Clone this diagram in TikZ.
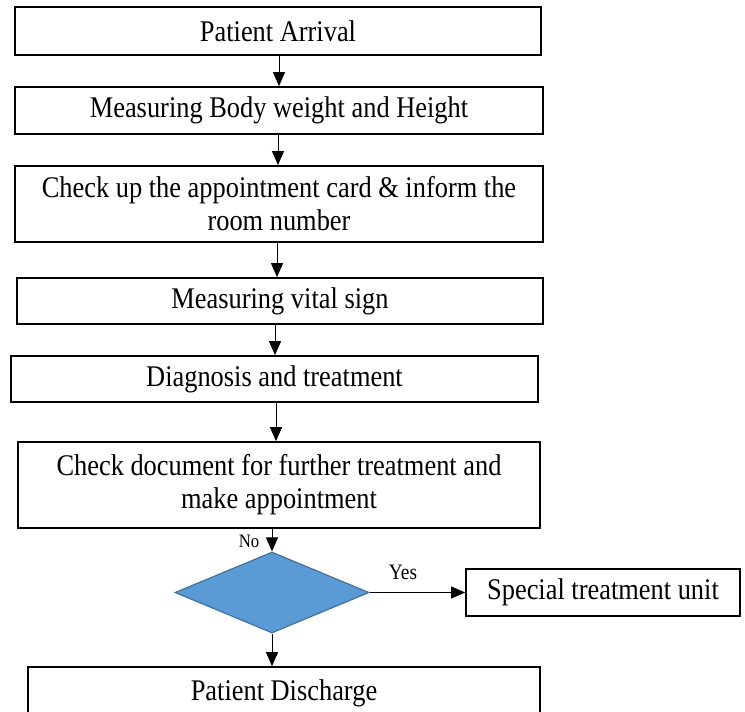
\documentclass[tikz,border=0pt]{standalone}
\usepackage{fontspec}
\setmainfont{Liberation Serif}[FakeStretch=0.88]
\usetikzlibrary{shapes.geometric,arrows.meta}
\definecolor{dfill}{HTML}{5B9BD5}
\definecolor{dline}{HTML}{41719C}
\begin{document}
\begin{tikzpicture}[x=1pt,y=-1pt,
  box/.style={draw=black,line width=1.7pt,fill=white,inner sep=0pt,align=center,
    font=\fontsize{30}{33}\selectfont},
  arr/.style={draw=black,line width=0.9pt,-{Triangle[length=14pt,width=12pt]}},
  lab/.style={inner sep=0pt}]
\useasboundingbox (0,0) rectangle (745,712);
\node[box,minimum width=526pt,minimum height=48pt] (b1) at (278,31) {Patient Arrival};
\node[box,minimum width=528pt,minimum height=47pt] (b2) at (279,110.5) {Measuring Body weight and Height};
\node[box,minimum width=528pt,minimum height=76pt] (b3) at (279,204) {Check up the appointment card \& inform the\\room number};
\node[box,minimum width=526pt,minimum height=46pt] (b4) at (280,301) {Measuring vital sign};
\node[box,minimum width=527pt,minimum height=46pt] (b5) at (274.5,379) {Diagnosis and treatment};
\node[box,minimum width=522pt,minimum height=86pt] (b6) at (279,485) {Check document for further treatment and\\make appointment};
\node[draw=dline,fill=dfill,line width=1.2pt,diamond,minimum width=194pt,minimum height=81pt,inner sep=0pt] (d) at (272,592.5) {};
\node[box,minimum width=274pt,minimum height=47pt] (sp) at (603,592.5) {Special treatment unit};
\node[box,minimum width=512pt,minimum height=52pt] (dis) at (284,693) {Patient Discharge};
\coordinate (c1) at (279,0);
\coordinate (c2) at (278,0);
\coordinate (c3) at (277,0);
\coordinate (c4) at (275,0);
\coordinate (c5) at (276,0);
\draw[arr] (b1.south -| c1) -- (b2.north -| c1);
\draw[arr] (b2.south -| c2) -- (b3.north -| c2);
\draw[arr] (b3.south -| c3) -- (b4.north -| c3);
\draw[arr] (b4.south -| c4) -- (b5.north -| c4);
\draw[arr] (b5.south -| c5) -- (b6.north -| c5);
\draw[arr] (b6.south -| d.north) -- (d.north);
\draw[arr] (d.east) -- (sp.west |- d.east);
\draw[arr] (d.south) -- (dis.north -| d.south);
\node[lab,font=\fontsize{22}{24}\selectfont] (yes) at (403,572) {Yes};
\node[lab,font=\fontsize{19}{21}\selectfont] (no) at (249,541) {No};
\end{tikzpicture}
\end{document}
